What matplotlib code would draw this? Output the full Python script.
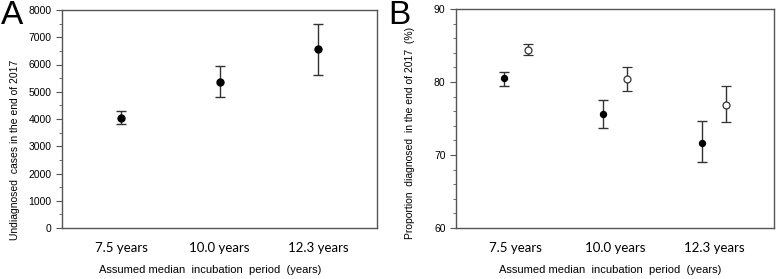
import matplotlib.pyplot as plt
from matplotlib.ticker import MultipleLocator

categories = ["7.5 years", "10.0 years", "12.3 years"]

# panel A: undiagnosed cases
undiag = [4030, 5370, 6570]
undiag_low = [3800, 4820, 5630]
undiag_high = [4290, 5940, 7470]

# panel B: proportion diagnosed (%), filled and open series
prop_filled = [80.5, 75.6, 71.7]
prop_filled_low = [79.5, 73.7, 69.0]
prop_filled_high = [81.4, 77.6, 74.7]

prop_open = [84.4, 80.4, 76.9]
prop_open_low = [83.7, 78.7, 74.5]
prop_open_high = [85.2, 82.0, 79.5]

plt.rcParams["font.family"] = ["Liberation Sans", "DejaVu Sans"]

fig = plt.figure(figsize=(7.77, 2.79), dpi=100)
axA = fig.add_axes([62 / 777, 1 - 228 / 279, 315 / 777, 218 / 279])
axB = fig.add_axes([456 / 777, 1 - 228 / 279, 318 / 777, 219 / 279])

x = [1, 2, 3]
spine_col = "#555555"
err_col = "#333333"


def yerr(v, lo, hi):
    return [[a - b for a, b in zip(v, lo)], [c - a for a, c in zip(v, hi)]]


axA.errorbar(x, undiag, yerr=yerr(undiag, undiag_low, undiag_high), fmt="o",
             color="black", ecolor=err_col, elinewidth=1, capsize=3.5,
             capthick=1, markersize=5)
axA.set_ylim(0, 8000)
axA.yaxis.set_major_locator(MultipleLocator(1000))
axA.yaxis.set_minor_locator(MultipleLocator(500))
axA.set_ylabel("Undiagnosed  cases in the end of 2017", fontsize=7.5)
axA.yaxis.set_label_coords(-0.133, 0.358)
axA.set_xlabel("Assumed median  incubation  period  (years)", fontsize=8)
axA.xaxis.set_label_coords(0.47, -0.17)

xf = [v - 0.12 for v in x]
xo = [v + 0.12 for v in x]
axB.errorbar(xf, prop_filled, yerr=yerr(prop_filled, prop_filled_low, prop_filled_high),
             fmt="o", color="black", ecolor=err_col, elinewidth=1, capsize=3.5,
             capthick=1, markersize=4.3)
axB.errorbar(xo, prop_open, yerr=yerr(prop_open, prop_open_low, prop_open_high),
             fmt="o", color=err_col, mfc="white", mec="#333333", mew=0.9,
             ecolor=err_col, elinewidth=1, capsize=3.5, capthick=1, markersize=5)
axB.set_ylim(60, 90)
axB.yaxis.set_major_locator(MultipleLocator(10))
axB.yaxis.set_minor_locator(MultipleLocator(2))
axB.set_ylabel("Proportion  diagnosed  in the end of 2017  (%)", fontsize=7.5)
axB.yaxis.set_label_coords(-0.129, 0.434)
axB.set_xlabel("Assumed median  incubation  period  (years)", fontsize=8)
axB.xaxis.set_label_coords(0.485, -0.17)

for ax, lab, lx in [(axA, "A", 1), (axB, "B", 388)]:
    ax.set_xlim(0.4, 3.6)
    ax.set_xticks(x)
    ax.set_xticklabels(categories, fontsize=9.5, family=["Lato", "DejaVu Sans"])
    ax.tick_params(axis="x", length=0, pad=10)
    ax.tick_params(axis="y", which="major", length=4, labelsize=7.5, color=spine_col)
    ax.tick_params(axis="y", which="minor", length=2.5, color=spine_col)
    for s in ax.spines.values():
        s.set_color(spine_col)
        s.set_linewidth(1)
    fig.text(lx / 777, 1 - 0 / 279, lab, fontsize=24, va="top", ha="left")

fig.savefig("out.png", dpi=100)
